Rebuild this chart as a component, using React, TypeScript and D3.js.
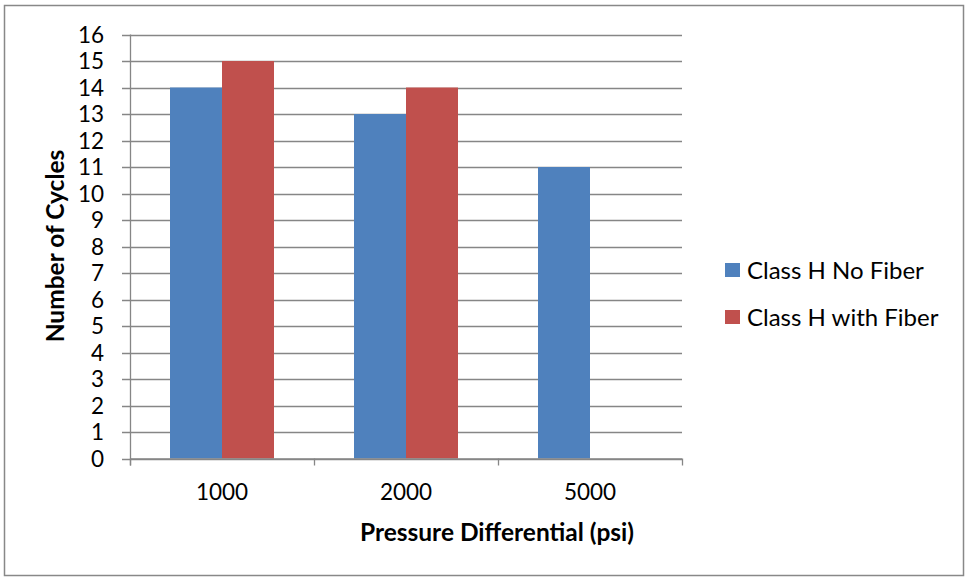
import React, { useEffect, useRef } from 'react';
import * as d3 from 'd3';

const categories = ['1000', '2000', '5000'];
const noFiber = [14, 13, 11];
const withFiber: (number | null)[] = [15, 14, null];
const seriesNames = ['Class H No Fiber', 'Class H with Fiber'];
const colors = ['#4F81BD', '#C0504D'];
const yTicks = d3.range(0, 17);

const App = () => {
  const ref = useRef<SVGSVGElement>(null);

  useEffect(() => {
    const width = 967;
    const height = 580;
    const svg = d3.select(ref.current).attr('width', width).attr('height', height);
    svg.selectAll('*').remove();

    const font = 'Lato, Calibri, "Open Sans", sans-serif';
    const grid = '#868686';

    // outer chart frame
    svg.append('rect')
      .attr('x', 4.5).attr('y', 5.5)
      .attr('width', 959).attr('height', 570)
      .attr('fill', '#fff').attr('stroke', '#888').attr('stroke-width', 1.5);

    const left = 130, right = 682, top = 34.5, bottom = 458.5;

    const x = d3.scaleBand().domain(categories).range([left, right]).padding(0);
    const y = d3.scaleLinear().domain([0, 16]).range([bottom, top]);
    const inner = d3.scaleBand().domain(['0', '1']).range([0, 104]);

    // gridlines
    svg.append('g')
      .selectAll('line')
      .data(yTicks)
      .enter()
      .append('line')
      .attr('x1', left - 8).attr('x2', right)
      .attr('y1', d => Math.round(y(d)) + 0.5).attr('y2', d => Math.round(y(d)) + 0.5)
      .attr('stroke', grid).attr('stroke-width', 1.3);

    // y tick labels
    svg.append('g')
      .selectAll('text')
      .data(yTicks)
      .enter()
      .append('text')
      .attr('x', 104)
      .attr('y', d => y(d))
      .attr('dy', '0.36em')
      .attr('text-anchor', 'end')
      .attr('font-family', font).attr('font-size', 22.5).attr('fill', '#000')
      .text(d => d);

    // bars
    const rows = categories.map((c, i) => ({ c, vals: [noFiber[i], withFiber[i]] }));
    const groups = svg.append('g')
      .selectAll('g')
      .data(rows)
      .enter()
      .append('g')
      .attr('transform', d => `translate(${x(d.c)! + x.bandwidth() / 2 - 52},0)`);

    groups.selectAll('rect')
      .data(d => d.vals.map((v, j) => ({ v, j })).filter(e => e.v != null))
      .enter()
      .append('rect')
      .attr('x', d => inner(String(d.j))!)
      .attr('width', inner.bandwidth())
      .attr('y', d => y(d.v as number))
      .attr('height', d => bottom - y(d.v as number))
      .attr('fill', d => colors[d.j]);

    // axes lines
    svg.append('line')
      .attr('x1', left + 0.5).attr('x2', left + 0.5)
      .attr('y1', top).attr('y2', bottom + 7)
      .attr('stroke', grid).attr('stroke-width', 1.3);
    svg.append('line')
      .attr('x1', left).attr('x2', right)
      .attr('y1', bottom + 0.5).attr('y2', bottom + 0.5)
      .attr('stroke', grid).attr('stroke-width', 1.3);

    const xTicks = categories.map(c => x(c)! + x.bandwidth()).concat([left]);
    svg.append('g')
      .selectAll('line')
      .data(xTicks)
      .enter()
      .append('line')
      .attr('x1', d => Math.round(d) + 0.5).attr('x2', d => Math.round(d) + 0.5)
      .attr('y1', bottom).attr('y2', bottom + 7)
      .attr('stroke', grid).attr('stroke-width', 1.3);

    // x labels
    svg.append('g')
      .selectAll('text')
      .data(categories)
      .enter()
      .append('text')
      .attr('x', d => x(d)! + x.bandwidth() / 2)
      .attr('y', 492)
      .attr('dy', '0.36em')
      .attr('text-anchor', 'middle')
      .attr('font-family', font).attr('font-size', 22.5).attr('fill', '#000')
      .text(d => d);

    // axis titles
    svg.append('text')
      .attr('x', 497).attr('y', 532)
      .attr('dy', '0.36em')
      .attr('text-anchor', 'middle')
      .attr('font-family', font).attr('font-size', 24.5).attr('font-weight', 'bold')
      .text('Pressure Differential (psi)');

    svg.append('text')
      .attr('transform', 'translate(55,246) rotate(-90)')
      .attr('dy', '0.36em')
      .attr('text-anchor', 'middle')
      .attr('font-family', font).attr('font-size', 24.5).attr('font-weight', 'bold')
      .text('Number of Cycles');

    // legend
    const legend = svg.append('g')
      .selectAll('g')
      .data(seriesNames)
      .enter()
      .append('g')
      .attr('transform', (d, i) => `translate(725,${263 + i * 47})`);
    legend.append('rect')
      .attr('width', 15).attr('height', 14)
      .attr('fill', (d, i) => colors[i]);
    legend.append('text')
      .attr('x', 22).attr('y', 7).attr('dy', '0.36em')
      .attr('font-family', font).attr('font-size', 24).attr('fill', '#000')
      .text(d => d);
  }, []);

  return <svg ref={ref} style={{ position: 'absolute', left: 0, top: 0 }}></svg>;
};

export default App;
